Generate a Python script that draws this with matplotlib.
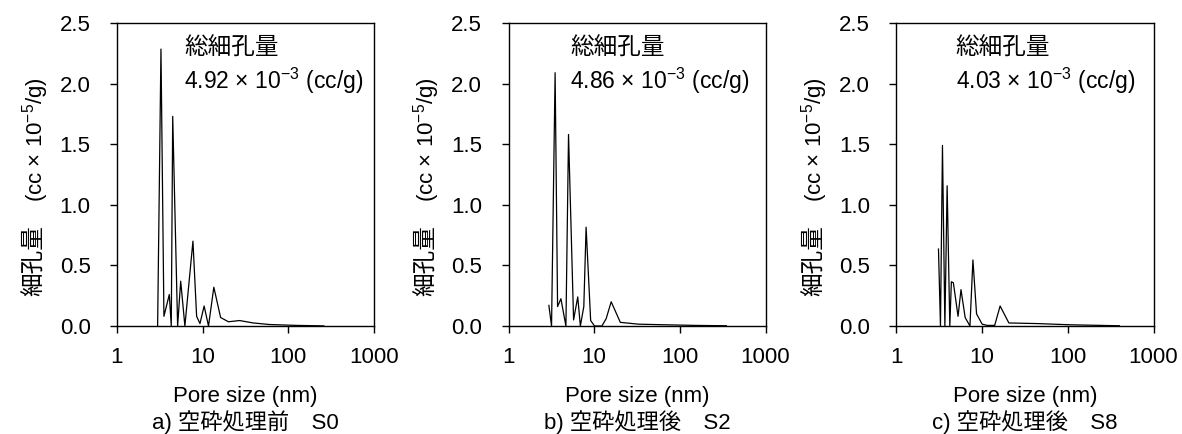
import numpy as np
import matplotlib
matplotlib.use("Agg")
import matplotlib.pyplot as plt
from matplotlib.ticker import FixedLocator, FixedFormatter, NullLocator

plt.rcParams["font.family"] = ["Liberation Sans", "Noto Sans CJK JP", "DejaVu Sans"]
plt.rcParams["mathtext.fontset"] = "custom"
plt.rcParams["mathtext.rm"] = "Liberation Sans"
plt.rcParams["mathtext.default"] = "regular"

# ── Data ─────────────────────────────────────────────────────────────────────
size_s0 = [2.98, 3.26, 3.53, 4.08, 4.3, 4.47, 5.1, 5.54, 6.2, 7.7, 8.5, 9.3,
           10.4, 11.7, 13.5, 16.2, 20, 27, 39, 61, 125, 260]
vol_s0 = [0, 2.285, 0.08, 0.26, 0, 1.73, 0, 0.37, 0, 0.70, 0.08, 0.02,
          0.165, 0, 0.32, 0.07, 0.035, 0.045, 0.025, 0.012, 0.005, 0.001]

size_s2 = [2.96, 3.18, 3.5, 3.74, 4.09, 4.68, 5.02, 5.75, 6.43, 6.9, 7.57, 8.05,
           9.1, 10.1, 12.3, 13.8, 15.8, 20.2, 33, 68, 150, 350]
vol_s2 = [0.17, 0, 2.09, 0.16, 0.225, 0, 1.58, 0.05, 0.24, 0, 0.16, 0.815,
          0.045, 0, 0, 0.06, 0.20, 0.03, 0.015, 0.01, 0.005, 0.002]

size_s8 = [3.09, 3.26, 3.44, 3.67, 3.9, 4.19, 4.37, 4.61, 5.23, 5.66, 6.33, 7.2,
           7.8, 8.6, 10, 11.5, 14, 16.2, 20.5, 44, 107, 400]
vol_s8 = [0.635, 0, 1.49, 0, 1.157, 0, 0.365, 0.357, 0.08, 0.30, 0.07, 0,
          0.545, 0.10, 0.015, 0.005, 0.005, 0.165, 0.025, 0.02, 0.01, 0.002]

totals = ["4.92", "4.86", "4.03"]
captions = ["a) 空砕処理前\u3000S0", "b) 空砕処理後\u3000S2", "c) 空砕処理後\u3000S8"]

x_ticks = [1, 10, 100, 1000]
x_ticklabels = ["1", "10", "100", "1000"]
y_ticks = [0.0, 0.5, 1.0, 1.5, 2.0, 2.5]

series = [(size_s0, vol_s0), (size_s2, vol_s2), (size_s8, vol_s8)]

# ── Figure ───────────────────────────────────────────────────────────────────
fig = plt.figure(figsize=(11.82, 4.34), dpi=100)
W, H = 1182, 434
lefts = [117, 508.5, 896.5]      # axes left edges in pixels
note_x = [0.262, 0.240, 0.230]   # annotation left edge, axes fraction

for i, (xs, ys) in enumerate(series):
    ax = fig.add_axes([lefts[i] / W, (H - 326) / H, 257 / W, 303 / H])
    ax.plot(xs, ys, color="black", linewidth=0.9)

    ax.set_xscale("log")
    ax.set_xlim(1, 1000)
    ax.set_ylim(0, 2.5)
    ax.xaxis.set_major_locator(FixedLocator(x_ticks))
    ax.xaxis.set_major_formatter(FixedFormatter(x_ticklabels))
    ax.xaxis.set_minor_locator(NullLocator())
    ax.set_yticks(y_ticks)
    ax.set_yticklabels([f"{v:.1f}" for v in y_ticks])
    ax.tick_params(axis="both", direction="out", length=5, width=1,
                   labelsize=16, color="black")
    ax.tick_params(axis="y", pad=14)
    ax.tick_params(axis="x", pad=10)
    for sp in ax.spines.values():
        sp.set_linewidth(1.0)
        sp.set_color("black")

    # y label split so the superscript can use mathtext
    ax.text(-0.318, 0.215, "細孔量", transform=ax.transAxes, rotation=90,
            ha="center", va="center", fontsize=17)
    ax.text(-0.318, 0.615, "(cc × 10$^{-5}$/g)", transform=ax.transAxes,
            rotation=90, ha="center", va="center", fontsize=16)

    ax.text(0.5, -0.234, "Pore size (nm)", transform=ax.transAxes,
            ha="center", va="center", fontsize=16)
    ax.text(0.5, -0.318, captions[i], transform=ax.transAxes,
            ha="center", va="center", fontsize=16)

    ax.text(note_x[i], 0.915, "総細孔量", transform=ax.transAxes,
            ha="left", va="center", fontsize=17)
    ax.text(note_x[i], 0.81, f"{totals[i]} × 10$^{{-3}}$ (cc/g)",
            transform=ax.transAxes, ha="left", va="center", fontsize=16.5)

fig.savefig("out.png", dpi=100)
